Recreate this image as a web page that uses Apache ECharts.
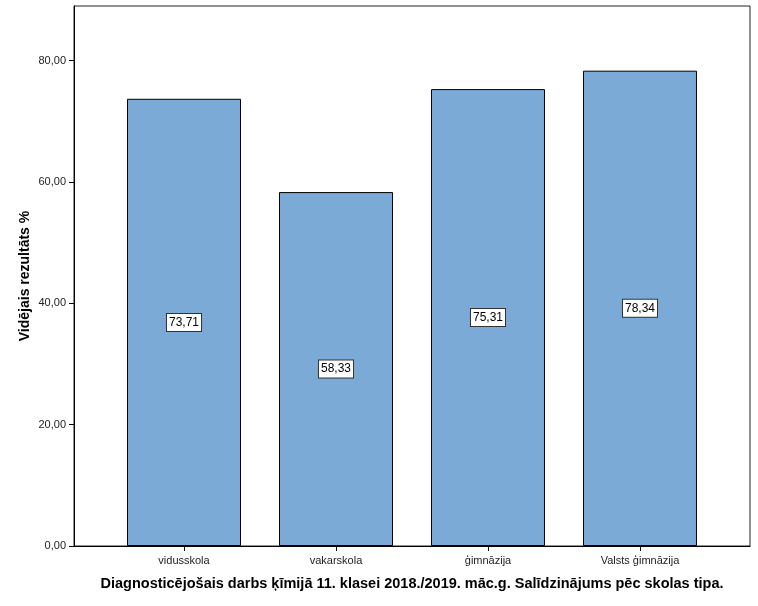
<!DOCTYPE html>
<html><head><meta charset="utf-8">
<script src="https://cdn.jsdelivr.net/npm/echarts@6/dist/echarts.min.js"></script>
<style>html,body{margin:0;padding:0;background:#fff}#c{width:758px;height:606px}</style>
</head><body><div id="c"></div>
<script>
var categories = ['vidusskola', 'vakarskola', 'ģimnāzija', 'Valsts ģimnāzija'];
var values = [73.71, 58.33, 75.31, 78.34];
var yTicks = [0, 20, 40, 60, 80];
var yTitle = 'Vidējais rezultāts %';
var xTitle = 'Diagnosticējošais darbs ķīmijā 11. klasei 2018./2019. māc.g. Salīdzinājums pēc skolas tipa.';

function fmt(v){ return v.toFixed(2).replace('.', ','); }
var idx = categories.map(function(_, i){ return i; });
var chart = echarts.init(document.getElementById('c'), null, {renderer:'canvas'});
chart.setOption({
  animation:false,
  textStyle:{fontFamily:'Liberation Sans, Arial, sans-serif'},
  grid:{left:74, right:8, top:6, bottom:60, show:true, borderColor:'#222', borderWidth:1, backgroundColor:'#fff'},
  xAxis:{
    type:'value', min:-0.7237, max:3.7237,
    axisLine:{show:true, onZero:false, lineStyle:{color:'#000', width:1}},
    axisTick:{show:true, length:5, customValues:idx, lineStyle:{color:'#000'}},
    axisLabel:{customValues:idx, color:'#222', fontSize:11, margin:9,
      formatter:function(v){ return categories[Math.round(v)]; }},
    splitLine:{show:false},
    name:xTitle, nameLocation:'middle', nameGap:30, nameMoveOverlap:false,
    nameTextStyle:{fontSize:14.5, fontWeight:'bold', color:'#000'}
  },
  yAxis:{
    type:'value', min:0, max:89, interval:20,
    axisLine:{show:true, onZero:false, lineStyle:{color:'#000', width:1}},
    axisTick:{show:true, length:5, customValues:yTicks, lineStyle:{color:'#000'}},
    axisLabel:{customValues:yTicks, color:'#222', fontSize:11, margin:8, formatter:function(v){return fmt(v);}},
    splitLine:{show:false},
    name:yTitle, nameLocation:'middle', nameGap:42, nameRotate:90, nameMoveOverlap:false,
    nameTextStyle:{fontSize:14, fontWeight:'bold', color:'#000'}
  },
  series:[{
    type:'bar', barWidth:114,
    data: values.map(function(v, i){ return [i, v]; }),
    itemStyle:{color:'#7BAAD7', borderColor:'#000', borderWidth:1},
    label:{show:true, position:'inside', color:'#000', fontSize:12,
      backgroundColor:'#fff', borderColor:'#333', borderWidth:1, padding:[3,2,2,2],
      formatter:function(p){ return fmt(p.value[1]); }}
  }]
});
</script></body></html>
